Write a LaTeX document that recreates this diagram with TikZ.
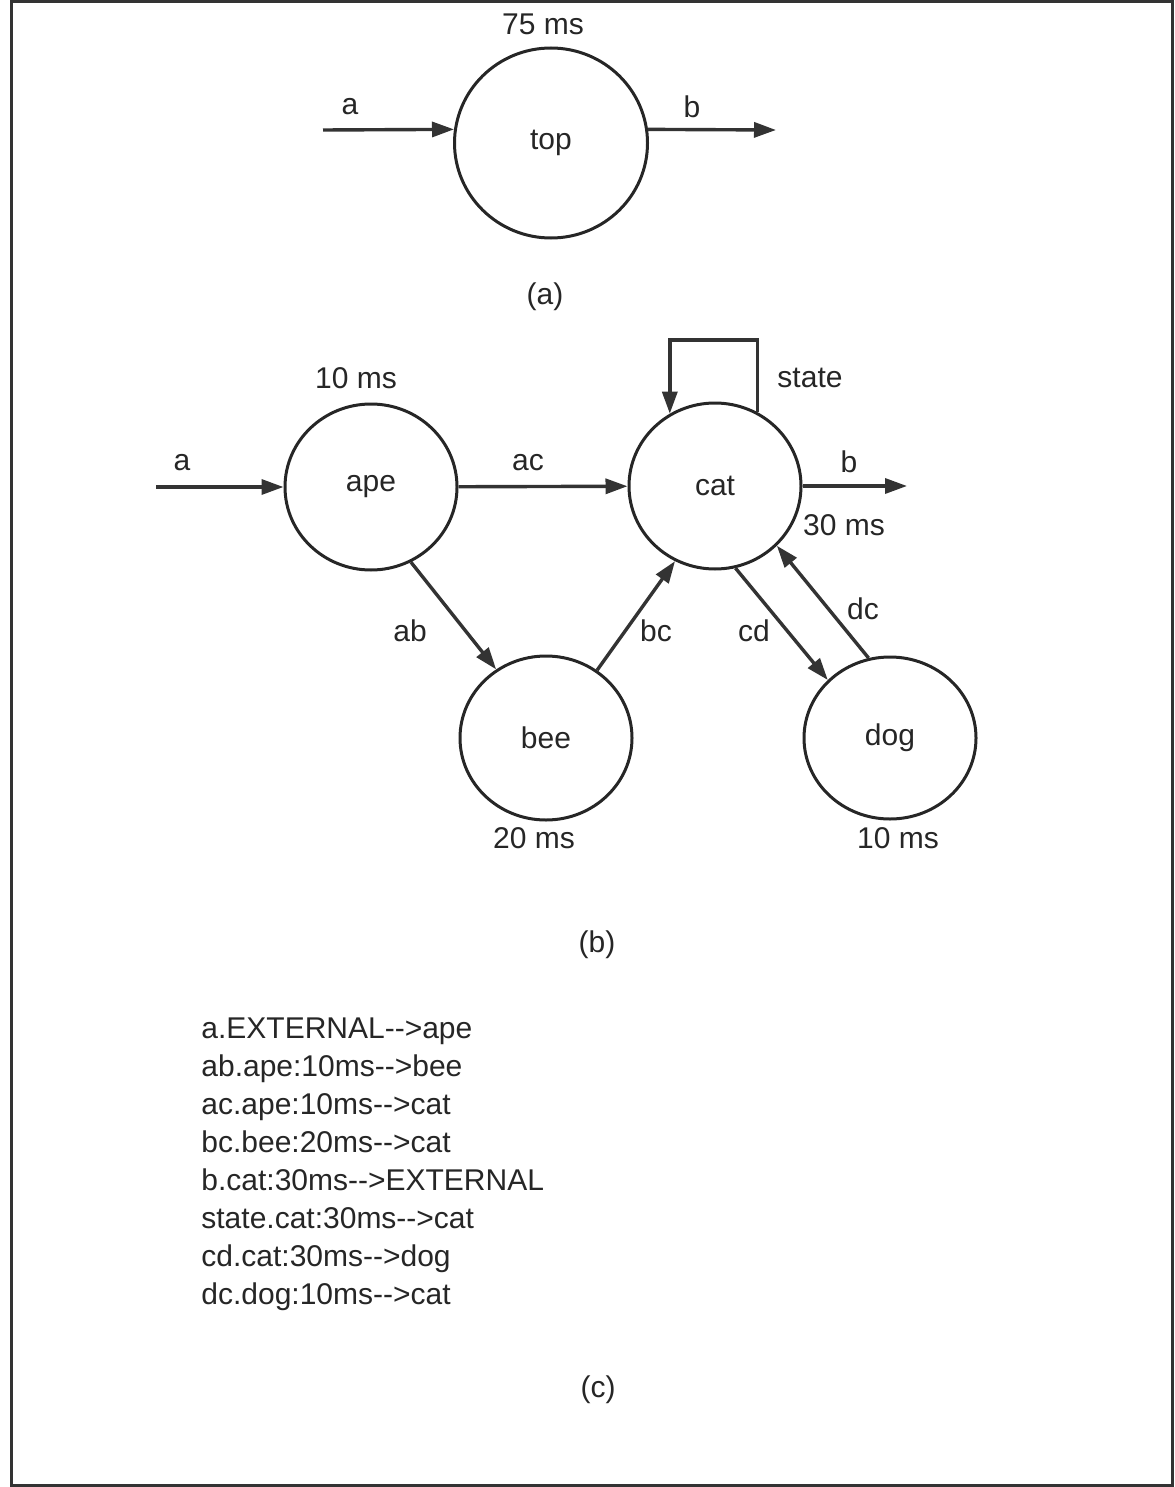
\documentclass[tikz,border=0pt]{standalone}
\usepackage{fontspec}
\setmainfont{Liberation Sans}
\usepackage{tikz}
\usetikzlibrary{arrows.meta,shapes.geometric}

\begin{document}
\begin{tikzpicture}[x=0.5pt, y=-0.5pt,
    font=\fontsize{15}{19}\selectfont,
    every node/.style={text=black!85},
    proc/.style={draw=black!85, ellipse, line width=1.5pt, inner sep=0pt,
        minimum width=86pt, minimum height=83pt},
    flow/.style={draw=black!80, line width=1.7pt,
        -{Triangle[length=11pt,width=7.5pt]}}]
    \useasboundingbox (0,0) rectangle (1174,1487);
    \draw[line width=1.5pt, black!80] (11,2) rectangle (1172,1485);

    % (a)
    \node[proc, minimum width=96.5pt, minimum height=95pt] (top) at (551,143) {top};
    \coordinate (top-in) at (323,130);
    \coordinate (top-out) at (776,130);
    \draw[flow] (top-in) -- (top.172);
    \draw[flow] (top.8) -- (top-out);
    \node (t-top) at (543,24) {75 ms};
    \node (l-a1) at (350,107) {a};
    \node (l-b1) at (692,107) {b};
    \node (cap-a) at (545,297) {(a)};

    % (b)
    \node[proc] (ape) at (371,487) {ape};
    \node[proc] (cat) at (715,486) {cat};
    \node[proc, minimum height=82pt] (bee) at (546,738) {bee};
    \node[proc, minimum height=81pt] (dog) at (890,738) {dog};
    \coordinate (ape-in) at (156,487);
    \coordinate (cat-out) at (907,486);
    \coordinate (loop) at (0,340);
    \draw[flow] (ape-in) -- (ape);
    \draw[flow] (ape) -- (cat);
    \draw[flow] (cat) -- (cat-out);
    \draw[flow] (ape.-62) -- (bee.126);
    \draw[flow] (bee.53) -- (cat.-118);
    \draw[flow] (cat.-76) -- (dog.137);
    \draw[flow] (dog.105) -- (cat.-44);
    \draw[flow] (cat.60) -- (cat.60 |- loop) -- (cat.122 |- loop) -- (cat.122);
    \node (t-ape) at (356,378) {10 ms};
    \node (t-cat) at (844,525) {30 ms};
    \node (t-bee) at (534,838) {20 ms};
    \node (t-dog) at (898,838) {10 ms};
    \node (l-a2) at (182,463) {a};
    \node (l-ac) at (528,463) {ac};
    \node (l-b2) at (849,462) {b};
    \node (l-state) at (810,378) {state};
    \node (l-ab) at (410,631) {ab};
    \node (l-bc) at (656,631) {bc};
    \node (l-cd) at (754,631) {cd};
    \node (l-dc) at (863,609) {dc};
    \node (cap-b) at (597,945) {(b)};

    % (c)
    \foreach \row [count=\i from 0] in {a.EXTERNAL-{}->ape, ab.ape:10ms-{}->bee,
        ac.ape:10ms-{}->cat, bc.bee:20ms-{}->cat, b.cat:30ms-{}->EXTERNAL,
        state.cat:30ms-{}->cat, cd.cat:30ms-{}->dog, dc.dog:10ms-{}->cat}
        \node[anchor=base west, inner sep=0pt] (row\i) at (201,{1038+38*\i}) {\row};
    \node (cap-c) at (598,1390) {(c)};
\end{tikzpicture}
\end{document}
